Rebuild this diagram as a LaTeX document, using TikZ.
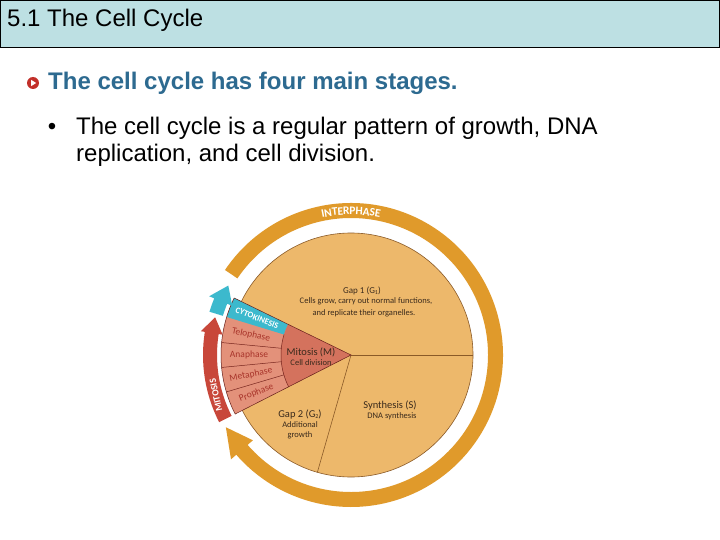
\documentclass[tikz,border=0pt]{standalone}
\usepackage{fontspec}
\setmainfont{Liberation Sans}
\newfontfamily\diagfont{Carlito}
\usetikzlibrary{decorations.text}
\definecolor{hdr}{HTML}{BDE0E3}
\definecolor{headblue}{HTML}{2D6A90}
\definecolor{iconred}{HTML}{C2302A}
\definecolor{piefill}{HTML}{EDB86B}
\definecolor{pieedge}{HTML}{8A5A28}
\definecolor{ringor}{HTML}{E09A2B}
\definecolor{wedgelight}{HTML}{E3917A}
\definecolor{wedgedark}{HTML}{D4725D}
\definecolor{cytocol}{HTML}{3CB9CD}
\definecolor{arrowred}{HTML}{C8473A}
\definecolor{phasetext}{HTML}{A8342A}
\definecolor{diagtext}{HTML}{3A2A1C}
\newcommand\subx[1]{\raisebox{-0.35ex}{\fontsize{6}{6}\selectfont #1}}
\tikzset{
  divider/.style={draw=pieedge, line width=0.6pt},
  phaseline/.style={draw=phasetext!70!black, line width=0.5pt},
  dtitle/.style={anchor=base, inner sep=0, text=diagtext, font=\diagfont\fontsize{10.5}{10.5}\selectfont},
  dsmall/.style={anchor=base, inner sep=0, text=diagtext, font=\diagfont\fontsize{8.5}{8.5}\selectfont},
  phaselbl/.style={inner sep=0, text=phasetext, font=\diagfont\fontsize{9.5}{9.5}\selectfont},
  slidetext/.style={anchor=base west, inner sep=0, font=\fontsize{24}{24}\selectfont},
}
\begin{document}
\begin{tikzpicture}[x=1pt,y=1pt]
\useasboundingbox (0,0) rectangle (720,-540);
\fill[white] (0,0) rectangle (720,-540);
% header
\draw[fill=hdr, line width=1pt] (0.5,-0.5) rectangle (719.5,-47.5);
\node[slidetext] (title) at (7,-27) {5.1 The Cell Cycle};
% bullet icon
\node[circle, fill=iconred, minimum size=12pt, inner sep=0] (icon) at (33,-83) {};
\fill[white] (31,-79.8) -- (31,-86.2) -- (36.2,-83) -- cycle;
\node[slidetext, font=\bfseries\fontsize{24}{24}\selectfont, text=headblue] (stages) at (48,-90) {The cell cycle has four main stages.};
\node[anchor=base, inner sep=0, font=\fontsize{24}{24}\selectfont] (dot) at (52,-135) {\textbullet};
\node[slidetext] (line1) at (76,-135) {The cell cycle is a regular pattern of growth, DNA};
\node[slidetext] (line2) at (76,-162) {replication, and cell division.};
% diagram
\begin{scope}[shift={(351,-355)}]
  % interphase ring with arrowhead
  \fill[ringor] (146:152) arc[start angle=146, end angle=-139, radius=152]
     -- (-139:159) -- (-150:144.5) -- (-139:130) -- (-139:137)
     arc[start angle=-139, end angle=146, radius=137] -- cycle;
  \path[decorate, decoration={text along path, text align=center, raise=-4.2pt,
     text color=white, text={|\diagfont\bfseries\fontsize{11.5}{11.5}\selectfont|INTERPHASE}}]
     (118:144.5) arc[start angle=118, end angle=62, radius=144.5];
  % pie
  \fill[piefill] (0,0) circle[radius=122];
  \draw[pieedge, line width=0.6pt] (0,0) circle[radius=122];
  \draw[divider] (0,0) -- (0:122);
  \draw[divider] (0,0) -- (254:122);
  % mitosis wedge
  \fill[wedgelight] (0,0) -- (154:130) arc[start angle=154, end angle=207, radius=130] -- cycle;
  \fill[cytocol] (154:70) -- (154:130) arc[start angle=154, end angle=163, radius=130]
     -- (163:70) arc[start angle=163, end angle=154, radius=70] -- cycle;
  \fill[wedgedark] (0,0) -- (154:70) arc[start angle=154, end angle=207, radius=70] -- cycle;
  \draw[phaseline] (174.5:70) -- (174.5:130);
  \draw[phaseline] (185.5:70) -- (185.5:130);
  \draw[phaseline] (196.5:70) -- (196.5:130);
  \draw[phaseline] (163:70) arc[start angle=163, end angle=207, radius=70];
  \draw[draw=phasetext!60!black, line width=0.5pt] (0,0) -- (154:130) arc[start angle=154, end angle=207, radius=130] -- cycle;
  % red mitosis arrow
  \fill[arrowred] (207:134) arc[start angle=207, end angle=171, radius=134]
     -- (171:130) -- (164.5:141) -- (171:152) -- (171:148)
     arc[start angle=171, end angle=207, radius=148] -- cycle;
  % cyan cytokinesis arrow
  \fill[cytocol] (163:134) arc[start angle=163, end angle=157.5, radius=134]
     -- (157.5:128.5) -- (150.5:141) -- (157.5:153.5) -- (157.5:148)
     arc[start angle=157.5, end angle=163, radius=148] -- cycle;
  % labels
  \node[rotate=102, inner sep=0, text=white, font=\diagfont\bfseries\fontsize{9.5}{9.5}\selectfont] (mitlbl) at (196.5:141) {MITOSIS};
  \node[rotate=-21.5, inner sep=0, text=white, font=\diagfont\bfseries\fontsize{8.5}{8.5}\selectfont] (cyto) at (158.5:101) {CYTOKINESIS};
  \node[phaselbl, rotate=-11.25] (telo) at (168.75:102) {Telophase};
  \node[phaselbl, rotate=0] (ana) at (180:102) {Anaphase};
  \node[phaselbl, rotate=11] (meta) at (191:102) {Metaphase};
  \node[phaselbl, rotate=21.75] (pro) at (201.75:102) {Prophase};
\end{scope}
% sector texts
\node[dsmall, font=\diagfont\fontsize{9}{9}\selectfont] (g1) at (362,-293) {Gap 1 (G\subx{1})};
\node[dsmall] (g1a) at (366,-303) {Cells grow, carry out normal functions,};
\node[dsmall] (g1b) at (364,-315.5) {and replicate their organelles.};
\node[dtitle] (mit) at (311,-355) {Mitosis (M)};
\node[dsmall] (mita) at (311,-365) {Cell division};
\node[dtitle] (syn) at (390,-408) {Synthesis (S)};
\node[dsmall] (syna) at (392,-418) {DNA synthesis};
\node[dtitle] (g2) at (300,-417) {Gap 2 (G\subx{2})};
\node[dsmall] (g2a) at (300,-427) {Additional};
\node[dsmall] (g2b) at (300,-437) {growth};
\end{tikzpicture}
\end{document}
